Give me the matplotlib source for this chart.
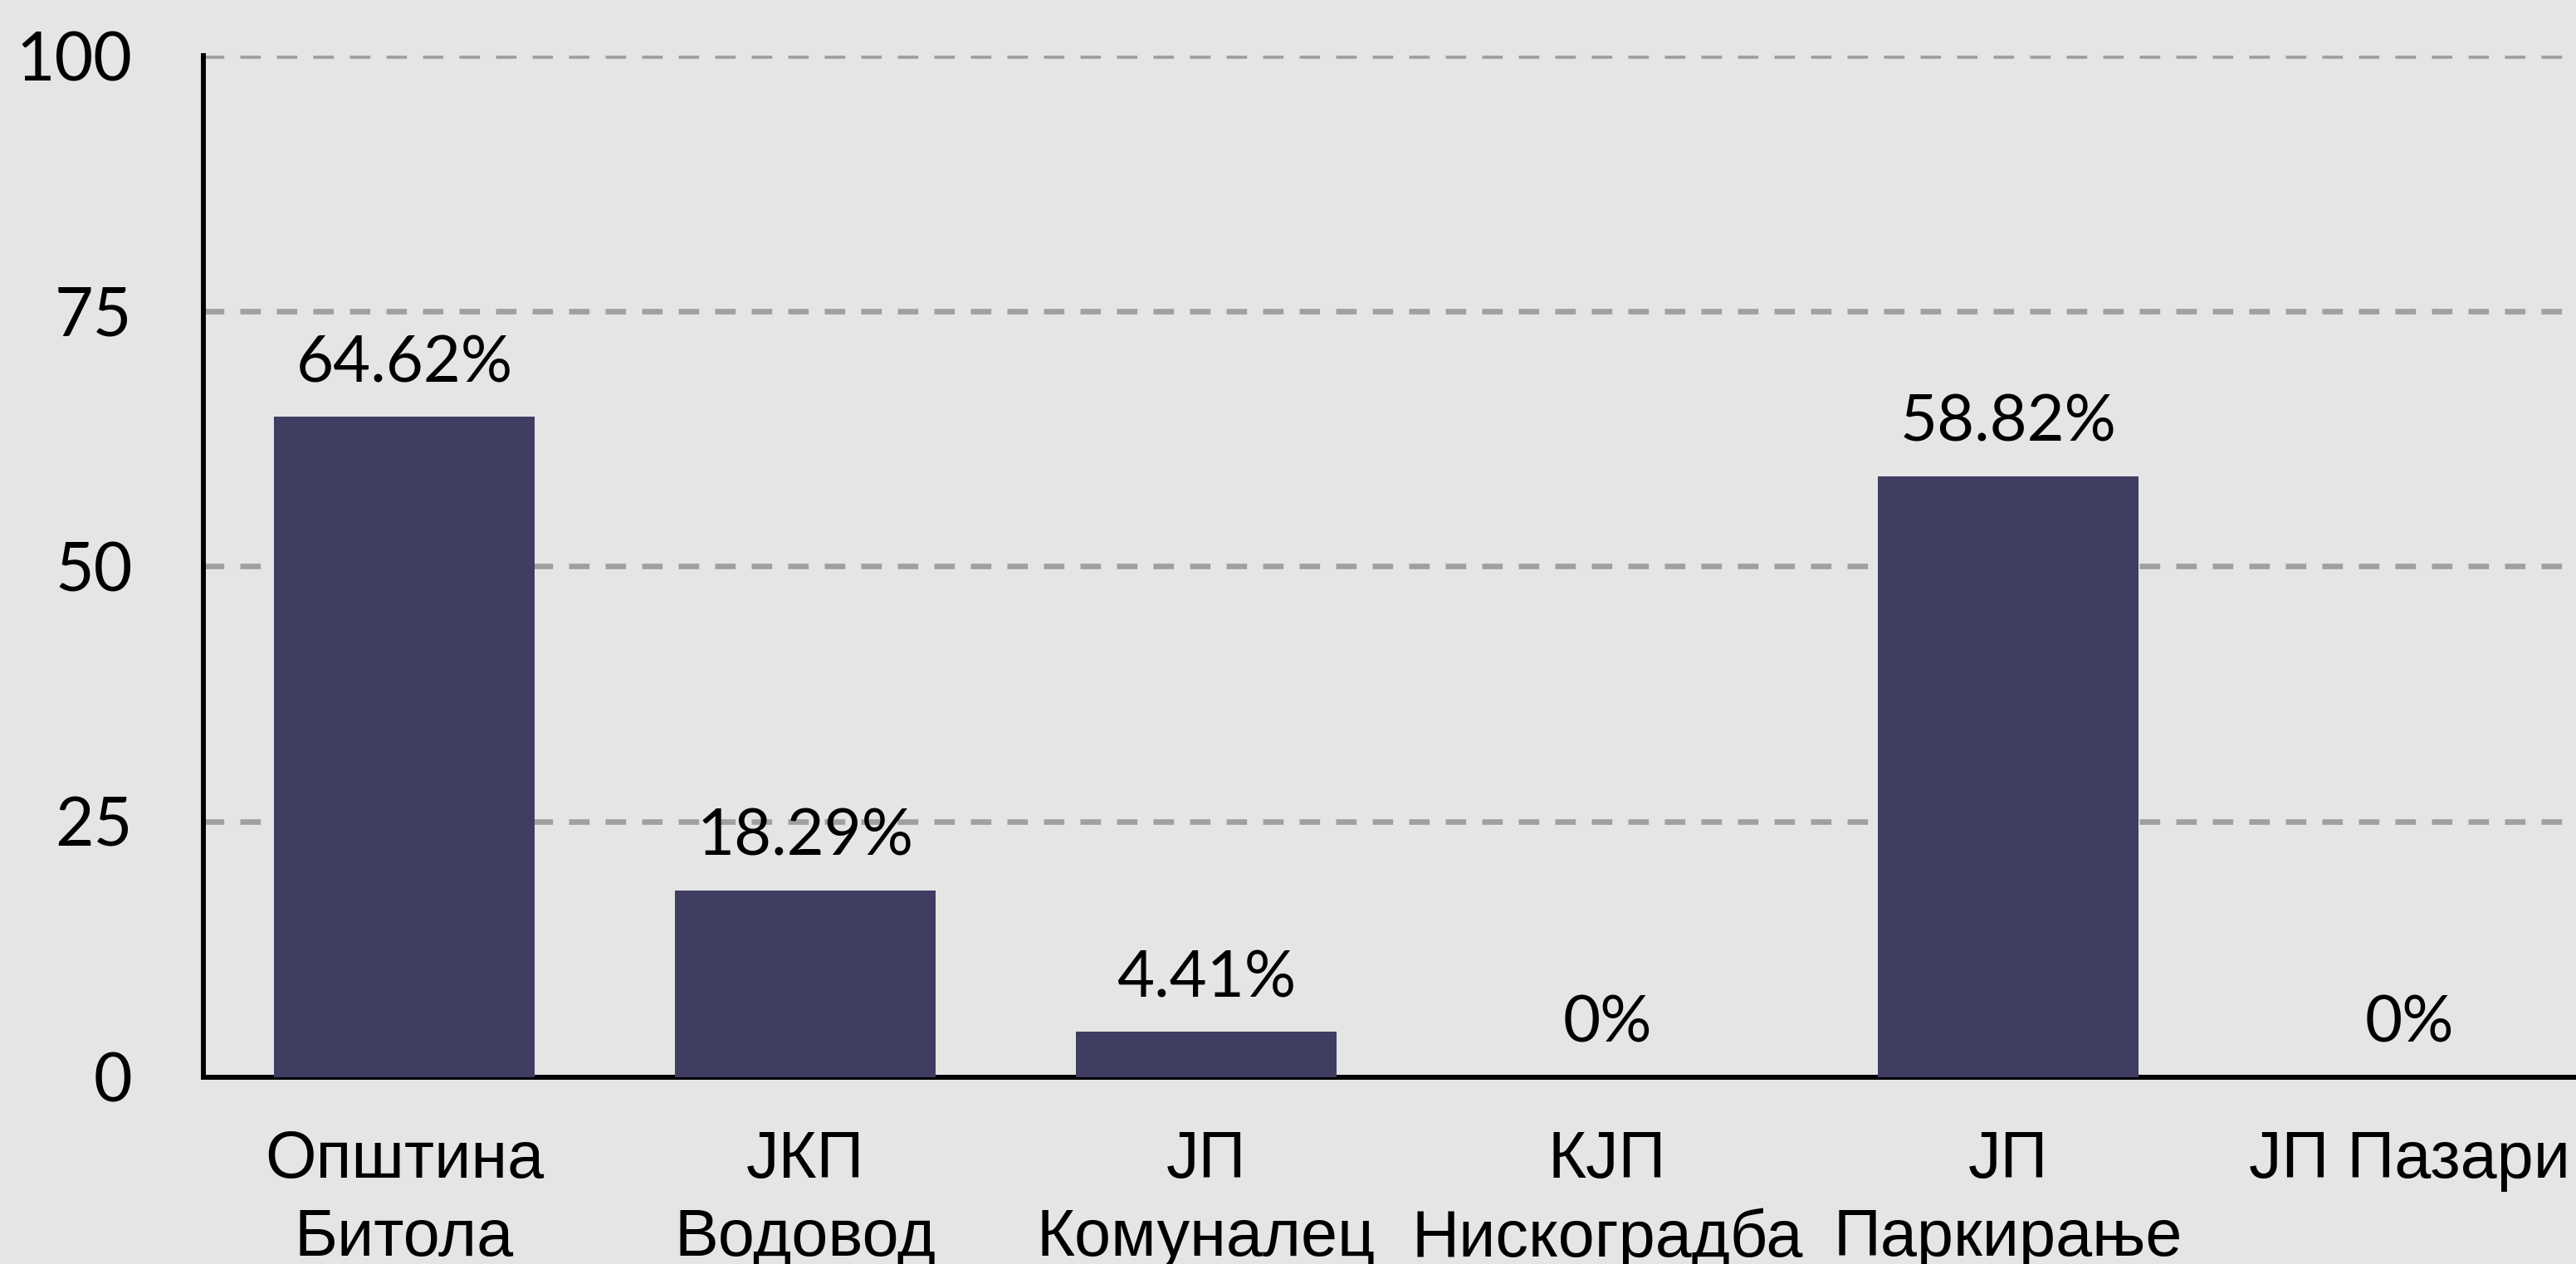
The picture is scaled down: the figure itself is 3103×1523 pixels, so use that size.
import matplotlib

matplotlib.use("Agg")
import matplotlib.pyplot as plt

categories = ["Општина\nБитола", "ЈКП\nВодовод", "ЈП\nКомуналец",
              "КЈП\nНискоградба", "ЈП\nПаркирање", "ЈП Пазари"]
values = [64.62, 18.29, 4.41, 0, 58.82, 0]
value_labels = ["64.62%", "18.29%", "4.41%", "0%", "58.82%", "0%"]
yticks = [0, 25, 50, 75, 100]

BG = "#e5e5e5"
BAR = "#403d63"

fig = plt.figure(figsize=(31.03, 15.23), dpi=100, facecolor=BG)
ax = fig.add_axes([0.0791, 0.148, 0.934, 0.808])
ax.set_facecolor(BG)

x = list(range(len(categories)))
ax.bar(x, values, width=0.65, color=BAR, zorder=3)

for xi, v, lab in zip(x, values, value_labels):
    ax.annotate(lab, (xi, v), xytext=(0, 20), textcoords="offset points",
                ha="center", va="bottom", fontsize=56, family="Lato", zorder=4)

ax.set_xlim(-0.5, len(categories) - 0.5)
ax.set_ylim(0, 100)
ax.set_yticks(yticks)
ax.set_yticklabels([str(t) for t in yticks], fontsize=58, family="Lato")
ax.set_xticks(x)
ax.set_xticklabels(categories, fontsize=57, family="Liberation Sans", linespacing=1.32)
ax.tick_params(axis="y", length=0, pad=62)
ax.tick_params(axis="x", length=0, pad=46)

ax.yaxis.grid(True, color="#a0a0a0", linestyle=(0, (3.7, 2.9)), linewidth=4.8, zorder=0)
ax.set_axisbelow(True)

for side in ("top", "right"):
    ax.spines[side].set_visible(False)
for side in ("left", "bottom"):
    ax.spines[side].set_linewidth(4.3)
    ax.spines[side].set_color("black")

fig.savefig("out.png", dpi=100, facecolor=BG)
